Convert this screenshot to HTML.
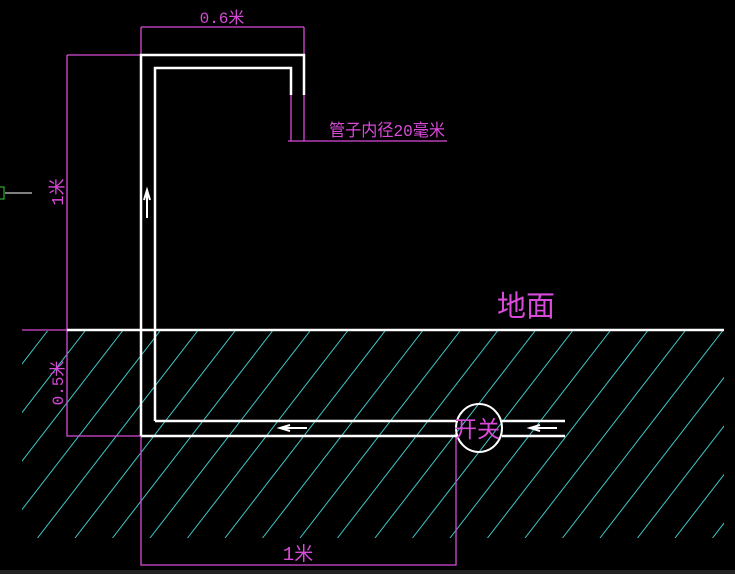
<!DOCTYPE html>
<html><head><meta charset="utf-8"><style>html,body{margin:0;padding:0;background:#000;width:735px;height:574px;overflow:hidden}</style></head>
<body>
<svg width="735" height="574" xmlns="http://www.w3.org/2000/svg" style="display:block">
<defs><clipPath id="c"><rect x="22" y="331" width="702" height="207"/></clipPath></defs>
<rect width="735" height="574" fill="#000"/>
<g clip-path="url(#c)" stroke="#3fc8c8" stroke-width="1">
<g id="h">
</g>
<script type="text/javascript"><![CDATA[
var g=document.getElementById('h');
for(var x=-300;x<800;x+=37.5){var l=document.createElementNS('http://www.w3.org/2000/svg','line');
l.setAttribute('x1',x);l.setAttribute('y1',538);l.setAttribute('x2',x+160);l.setAttribute('y2',331);g.appendChild(l);}
]]></script>
</g>
<rect x="0" y="570" width="735" height="4" fill="#222"/>
<g stroke="#d84ad8" stroke-width="1.3" fill="none">
<path d="M141 27H304M141 27V55M304 27V55"/>
<path d="M67 55H141M67 55V436H141"/>
<path d="M141 436V565H456V436"/>
<path d="M291 95V141M304 95V141M288 141H447"/>
<path d="M22 330H67"/>
</g>
<g stroke="#fff" stroke-width="2.5" fill="none">
<path d="M141 436V55H304V95"/>
<path d="M155 421V68H291V95"/>
<path d="M141 436H458M502 436H565"/>
<path d="M155 421H458M502 421H565"/>
<path d="M67 330H724"/>
<ellipse cx="479" cy="428" rx="23" ry="24" stroke-width="2"/>
<path d="M147 218V192M144 200L147 190L150 200" stroke-width="2"/>
<path d="M307 428H282M290 425L280 428L290 431" stroke-width="2"/>
<path d="M557 428H532M540 425L530 428L540 431" stroke-width="2"/>
<path d="M5 193H32" stroke-width="1"/>
</g>
<rect x="-3" y="187" width="7" height="12" fill="none" stroke="#3c3" stroke-width="1"/>
<g fill="#d84ad8" font-family="'Liberation Mono','Noto Sans CJK SC',monospace">
<text x="222" y="23" font-size="16" text-anchor="middle">0.6米</text>
<text x="387" y="136" font-size="17" text-anchor="middle" textLength="116" lengthAdjust="spacingAndGlyphs">管子内径20毫米</text>
<text x="298" y="560" font-size="19" text-anchor="middle">1米</text>
<text transform="translate(63,192) rotate(-90)" font-size="17" text-anchor="middle">1米</text>
<text transform="translate(63,383) rotate(-90)" font-size="16" text-anchor="middle">0.5米</text>
<text x="526" y="316" font-size="29" text-anchor="middle" font-family="'Noto Sans CJK SC',sans-serif">地面</text>
<text x="477" y="437" font-size="23" text-anchor="middle" font-family="'Noto Sans CJK SC',sans-serif">开关</text>
</g>
</svg>
</body></html>
